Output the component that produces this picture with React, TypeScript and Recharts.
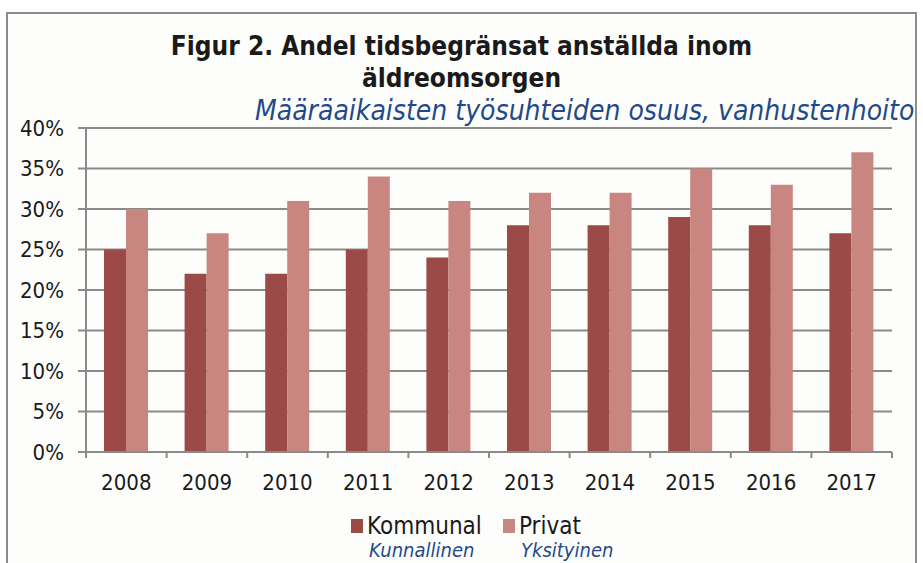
import { Bar, BarChart, CartesianGrid, XAxis, YAxis } from "recharts"

const years = ["2008", "2009", "2010", "2011", "2012", "2013", "2014", "2015", "2016", "2017"]
const kommunal = [25, 22, 22, 25, 24, 28, 28, 29, 28, 27]
const privat = [30, 27, 31, 34, 31, 32, 32, 35, 33, 37]
const yTicks = [0, 5, 10, 15, 20, 25, 30, 35, 40]

const data = years.map((year, i) => ({
  year,
  kommunal: kommunal[i],
  privat: privat[i],
}))

const font = "'DejaVu Sans Condensed', 'DejaVu Sans', sans-serif"
const dark = "#9b4a47"
const light = "#c98580"
const grid = "#8a8a8a"
const blue = "#1f4a8a"

const W = 923
const H = 563
const plotLeft = 86
const plotRight = 892
const band = (plotRight - plotLeft) / years.length

function YearTick(props: any) {
  const { x, y, payload, index } = props
  return (
    <g>
      <line x1={x - band / 2} x2={x - band / 2} y1={y - 8} y2={y - 2} stroke={grid} strokeWidth={2} />
      {index === years.length - 1 && (
        <line x1={x + band / 2} x2={x + band / 2} y1={y - 8} y2={y - 2} stroke={grid} strokeWidth={2} />
      )}
      <text x={x} y={y + 30} textAnchor="middle" fontSize={22} fill="#1a1a1a" fontFamily={font}>
        {payload.value}
      </text>
    </g>
  )
}

function LegendItem({ color, sv, fi, left }: { color: string; sv: string; fi: string; left: number }) {
  return (
    <div style={{ position: "absolute", left, top: 513, fontFamily: font, whiteSpace: "nowrap" }}>
      <div style={{ display: "flex", alignItems: "center", fontSize: 24, color: "#1a1a1a", lineHeight: "26px", height: 26 }}>
        <span style={{ display: "inline-block", width: 12, height: 14, background: color, marginRight: 4 }} />
        {sv}
      </div>
      <div style={{ fontStyle: "italic", fontSize: 20, color: blue, marginLeft: 18, lineHeight: "22px", height: 22 }}>
        {fi}
      </div>
    </div>
  )
}

export default function App() {
  return (
    <div style={{ position: "absolute", left: 0, top: 0, width: W, height: H, background: "#fff", overflow: "hidden" }}>
      <div
        style={{
          position: "absolute",
          left: 6,
          top: 12,
          width: 911,
          height: H,
          border: "2px solid #8c8c8c",
          background: "#fdfdfb",
          boxSizing: "border-box",
        }}
      />
      <div
        style={{
          position: "absolute",
          left: 0,
          top: 30,
          width: W,
          textAlign: "center",
          fontFamily: font,
          fontWeight: "bold",
          fontSize: 26,
          lineHeight: "32px",
          color: "#1a1a1a",
        }}
      >
        Figur 2. Andel tidsbegränsat anställda inom
        <br />
        äldreomsorgen
      </div>
      <div
        style={{
          position: "absolute",
          left: 255,
          top: 94,
          whiteSpace: "nowrap",
          fontFamily: font,
          fontStyle: "italic",
          fontSize: 28,
          color: blue,
        }}
      >
        Määräaikaisten työsuhteiden osuus, vanhustenhoito
      </div>
      <div style={{ position: "absolute", left: 0, top: 0 }}>
        <BarChart
          width={W}
          height={H}
          data={data}
          margin={{ top: 128, right: W - plotRight, bottom: 71, left: 6 }}
          barGap={0}
          barSize={22}
        >
          <CartesianGrid vertical={false} stroke={grid} strokeWidth={2} />
          <XAxis
            dataKey="year"
            height={40}
            axisLine={{ stroke: grid, strokeWidth: 2 }}
            tickLine={false}
            tick={<YearTick />}
            interval={0}
          />
          <YAxis
            width={80}
            domain={[0, 40]}
            ticks={yTicks}
            tickFormatter={(v) => `${v}%`}
            axisLine={{ stroke: grid, strokeWidth: 2 }}
            tickLine={{ stroke: grid, strokeWidth: 2 }}
            tickSize={8}
            tickMargin={14}
            tick={{ fontSize: 22, fill: "#1a1a1a", fontFamily: font }}
          />
          <Bar dataKey="kommunal" fill={dark} isAnimationActive={false} />
          <Bar dataKey="privat" fill={light} isAnimationActive={false} />
        </BarChart>
      </div>
      <LegendItem color={dark} sv="Kommunal" fi="Kunnallinen" left={351} />
      <LegendItem color={light} sv="Privat" fi="Yksityinen" left={503} />
    </div>
  )
}
